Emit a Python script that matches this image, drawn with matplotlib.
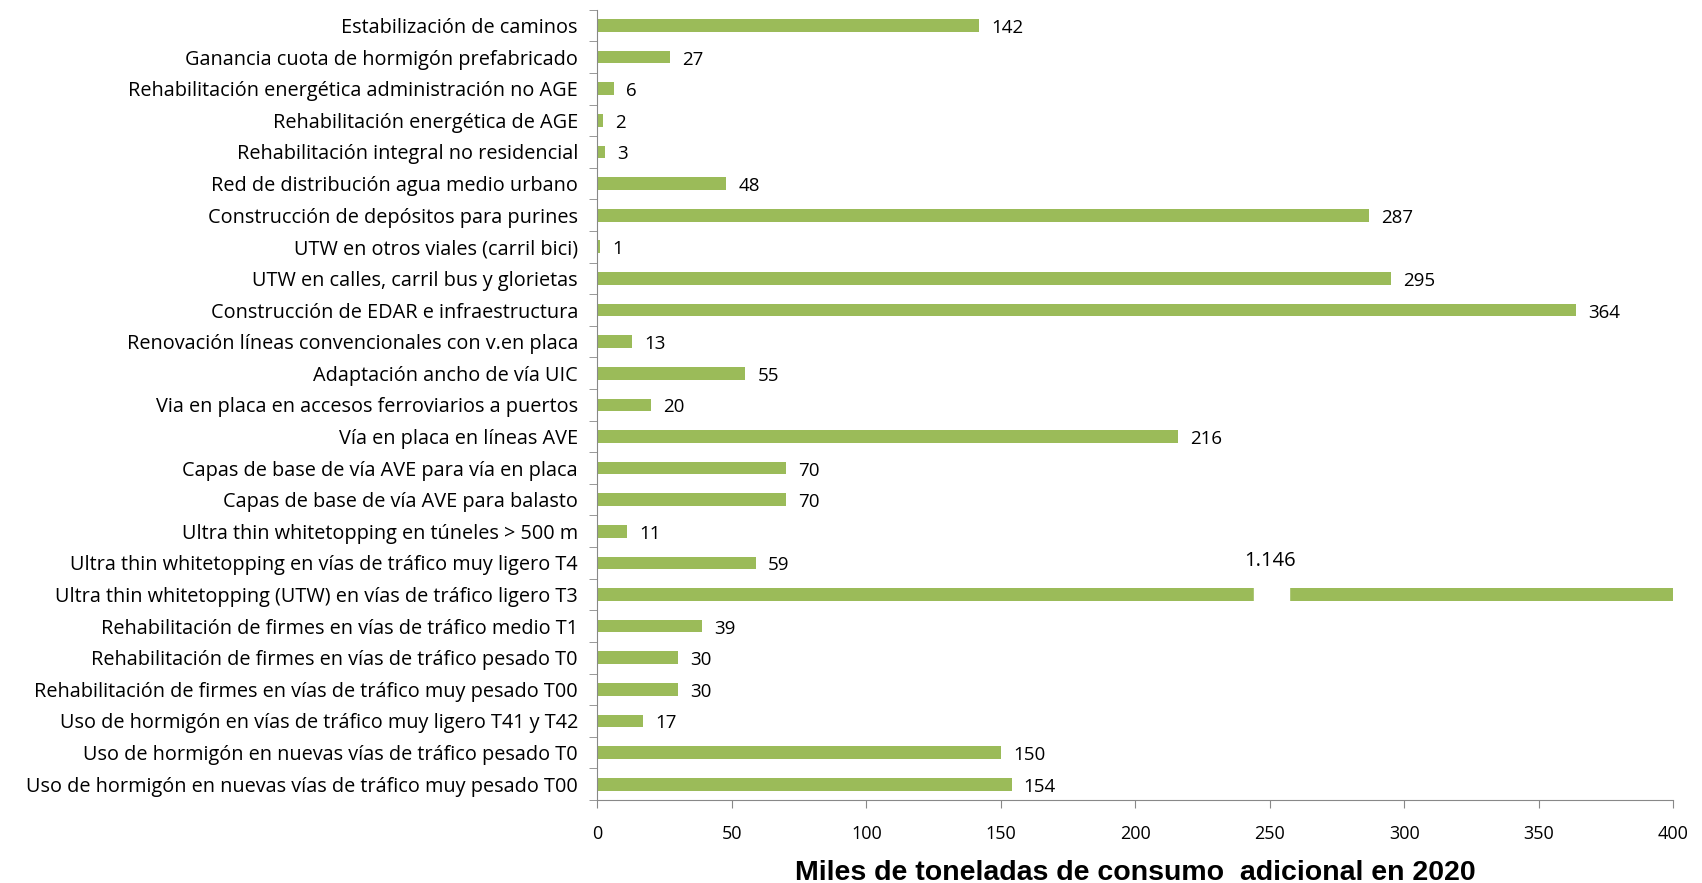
import matplotlib.pyplot as plt
import matplotlib.patches as mpatches
import numpy as np

plt.rcParams['font.family'] = ['Open Sans', 'DejaVu Sans']

# categories listed top to bottom as in the chart
categories = [
    'Estabilización de caminos',
    'Ganancia cuota de hormigón prefabricado',
    'Rehabilitación energética administración no AGE',
    'Rehabilitación energética de AGE',
    'Rehabilitación integral no residencial',
    'Red de distribución agua medio urbano',
    'Construcción de depósitos para purines',
    'UTW en otros viales (carril bici)',
    'UTW en calles, carril bus y glorietas',
    'Construcción de EDAR e infraestructura',
    'Renovación líneas convencionales con v.en placa',
    'Adaptación ancho de vía UIC',
    'Via en placa en accesos ferroviarios a puertos',
    'Vía en placa en líneas AVE',
    'Capas de base de vía AVE para vía en placa',
    'Capas de base de vía AVE para balasto',
    'Ultra thin whitetopping en túneles > 500 m',
    'Ultra thin whitetopping en vías de tráfico muy ligero T4',
    'Ultra thin whitetopping (UTW) en vías de tráfico ligero T3',
    'Rehabilitación de firmes en vías de tráfico medio T1',
    'Rehabilitación de firmes en vías de tráfico pesado T0',
    'Rehabilitación de firmes en vías de tráfico muy pesado T00',
    'Uso de hormigón en vías de tráfico muy ligero T41 y T42',
    'Uso de hormigón en nuevas vías de tráfico pesado T0',
    'Uso de hormigón en nuevas vías de tráfico muy pesado T00',
]
values = [142, 27, 6, 2, 3, 48, 287, 1, 295, 364, 13, 55, 20, 216, 70, 70,
          11, 59, 1146, 39, 30, 30, 17, 150, 154]

x_max = 400
x_ticks = [0, 50, 100, 150, 200, 250, 300, 350, 400]
green = '#9BBB59'

fig = plt.figure(figsize=(17.02, 8.83), dpi=100)
ax = fig.add_axes([0.351, 0.094, 0.632, 0.895])

n = len(categories)
y = np.arange(n)[::-1]
shown = [min(v, x_max) for v in values]
ax.barh(y, shown, height=0.4, color=green, zorder=2)

for yi, v in zip(y, values):
    if v > x_max:
        # axis break on the bar that runs past the scale
        ax.add_patch(mpatches.Rectangle((244, yi - 0.3), 13, 0.6, color='white', zorder=3))
        ax.text(250, yi + 1.05, f'{v:,}'.replace(',', '.'), ha='center', va='center', fontsize=14.5)
    else:
        ax.text(v + 4.5, yi - 0.08, str(v), ha='left', va='center', fontsize=13.5)

ax.set_xlim(0, x_max)
ax.set_ylim(-0.5, n - 0.5)
ax.set_xticks(x_ticks)
ax.set_yticks(y)
ax.set_yticklabels(categories, fontsize=14.3)
ax.set_yticks(np.arange(-0.5, n, 1), minor=True)
ax.tick_params(axis='y', which='major', length=0, pad=14)
ax.tick_params(axis='y', which='minor', length=6, color='#888888')
ax.tick_params(axis='x', length=6, color='#888888', labelsize=13, pad=12)

for s in ['top', 'right']:
    ax.spines[s].set_visible(False)
for s in ['left', 'bottom']:
    ax.spines[s].set_color('#888888')

ax.set_xlabel('Miles de toneladas de consumo  adicional en 2020', fontsize=20.5,
              fontweight='bold', labelpad=12, family=['Liberation Sans', 'DejaVu Sans'])

fig.savefig('out.png', dpi=100)
